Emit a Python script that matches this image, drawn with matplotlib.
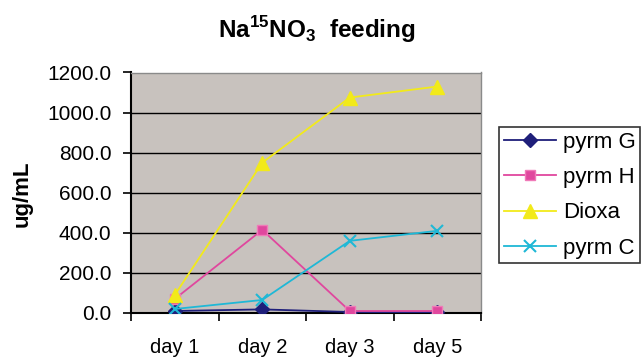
import matplotlib
matplotlib.use("Agg")
import matplotlib.pyplot as plt
import numpy as np

plt.rcParams['font.family'] = ['Liberation Sans', 'DejaVu Sans']
plt.rcParams['mathtext.fontset'] = 'custom'
plt.rcParams['mathtext.rm'] = 'Liberation Sans:bold'
plt.rcParams['mathtext.bf'] = 'Liberation Sans:bold'

categories = ["day 1", "day 2", "day 3", "day 5"]
pyrm_G = [10, 18, 5, 3]
pyrm_H = [70, 415, 10, 10]
dioxa = [90, 750, 1075, 1130]
pyrm_C = [20, 65, 360, 410]
yticks = [0, 200, 400, 600, 800, 1000, 1200]

fig = plt.figure(figsize=(6.44, 3.58), dpi=100)
W, H = 644, 358
ax = fig.add_axes([131/W, 1 - 313/H, (481-131)/W, (313-72.5)/H])
ax.set_facecolor('#C8C2BE')

x = np.arange(len(categories))
ax.plot(x, pyrm_G, color='#1F1F7A', marker='D', markersize=7, lw=1.3, label='pyrm G', zorder=5)
ax.plot(x, pyrm_H, color='#E0479E', marker='s', markersize=7, lw=1.3, label='pyrm H',
        markerfacecolor='#E0479E', markeredgecolor='#F07AB8', zorder=5)
ax.plot(x, dioxa, color='#F2EA1A', marker='^', markersize=10, lw=1.3, label='Dioxa', zorder=5)
ax.plot(x, pyrm_C, color='#1FB8D6', marker='x', markersize=9, mew=1.5, lw=1.3, label='pyrm C', zorder=5)

ax.set_xlim(-0.5, len(categories) - 0.5)
ax.set_ylim(0, 1200)
ax.set_yticks(yticks)
ax.set_yticklabels([f"{v:.1f}" for v in yticks], fontsize=15)
ax.yaxis.grid(True, color='black', lw=1)
ax.set_axisbelow(True)

ax.set_xticks(x)
ax.set_xticklabels(categories, fontsize=14.5)
ax.tick_params(axis='x', which='major', length=0, pad=18)
ax.set_xticks(np.arange(-0.5, len(categories)), minor=True)
ax.tick_params(axis='x', which='minor', length=6, width=1.2, direction='out', color='black')
ax.tick_params(axis='y', length=6, width=1.2, direction='out', pad=8)

for s in ['top', 'right']:
    ax.spines[s].set_color('#8A8A8A')
    ax.spines[s].set_linewidth(1)
for s in ['left', 'bottom']:
    ax.spines[s].set_color('black')
    ax.spines[s].set_linewidth(1.5)

fig.text(22/W, 1 - 194/H, "ug/mL", fontsize=16, fontweight='bold', rotation=90,
         ha='center', va='center')

fig.text(317/W, 1 - 30/H, r"Na$^{15}$NO$_3$  feeding", fontsize=17.5, fontweight='bold',
         ha='center', va='center')

leg = fig.legend(loc='upper left', bbox_to_anchor=(499/W, 1 - 127/H), fontsize=16,
                 frameon=True, fancybox=False, edgecolor='black', borderpad=0.22,
                 handlelength=2.35, handletextpad=0.3, labelspacing=0.64, borderaxespad=0)
leg.get_frame().set_linewidth(1.2)

fig.savefig("out.png", dpi=100)
